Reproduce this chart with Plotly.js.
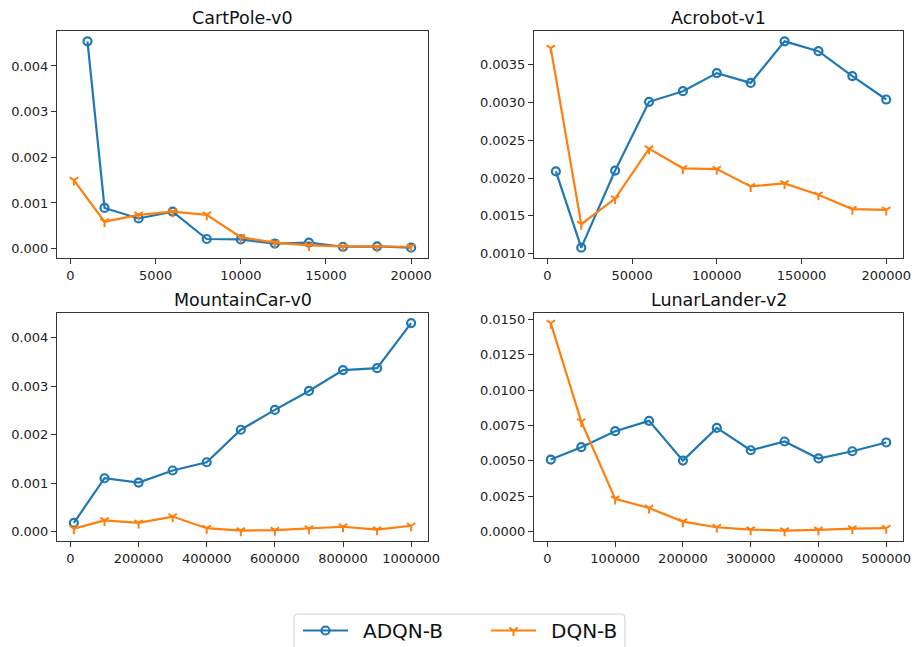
<!DOCTYPE html>
<html>
<head>
<meta charset="utf-8">
<script src="https://cdn.plot.ly/plotly-3.0.1.min.js"></script>
<style>html,body{margin:0;padding:0;background:#fff;}#chart{width:921px;height:647px;}</style>
</head>
<body>
<div id="chart"></div>
<script>
// ---- Data ----
const titles = ["CartPole-v0", "Acrobot-v1", "MountainCar-v0", "LunarLander-v2"];
const seriesNames = ["ADQN-B", "DQN-B"];

const cartX_adqn = [1000, 2000, 4000, 6000, 8000, 10000, 12000, 14000, 16000, 18000, 20000];
const cartY_adqn = [0.00454, 0.00089, 0.00066, 0.00081, 0.00021, 0.00020, 0.00011, 0.00013, 0.00004, 0.00005, 0.00002];
const cartX_dqn  = [200, 2000, 4000, 6000, 8000, 10000, 12000, 14000, 16000, 18000, 20000];
const cartY_dqn  = [0.00150, 0.00059, 0.00074, 0.00081, 0.00074, 0.00025, 0.00013, 0.00007, 0.00005, 0.00004, 0.00004];

const acroX_adqn = [5000, 20000, 40000, 60000, 80000, 100000, 120000, 140000, 160000, 180000, 200000];
const acroY_adqn = [0.00209, 0.00108, 0.00210, 0.00301, 0.00315, 0.00339, 0.00326, 0.00381, 0.00368, 0.00335, 0.00304];
const acroX_dqn  = [2000, 20000, 40000, 60000, 80000, 100000, 120000, 140000, 160000, 180000, 200000];
const acroY_dqn  = [0.00372, 0.00139, 0.00173, 0.00239, 0.00213, 0.00212, 0.00189, 0.00193, 0.00178, 0.00159, 0.00158];

const mcX_adqn = [10000, 100000, 200000, 300000, 400000, 500000, 600000, 700000, 800000, 900000, 1000000];
const mcY_adqn = [0.00018, 0.00110, 0.00101, 0.00126, 0.00143, 0.00210, 0.00251, 0.00290, 0.00333, 0.00337, 0.00430];
const mcX_dqn  = [10000, 100000, 200000, 300000, 400000, 500000, 600000, 700000, 800000, 900000, 1000000];
const mcY_dqn  = [0.00006, 0.00023, 0.00018, 0.00031, 0.00007, 0.00002, 0.00003, 0.00006, 0.00010, 0.00004, 0.00012];

const llX_adqn = [5000, 50000, 100000, 150000, 200000, 250000, 300000, 350000, 400000, 450000, 500000];
const llY_adqn = [0.00509, 0.00597, 0.00710, 0.00783, 0.00502, 0.00733, 0.00575, 0.00637, 0.00517, 0.00568, 0.00630];
const llX_dqn  = [5000, 50000, 100000, 150000, 200000, 250000, 300000, 350000, 400000, 450000, 500000];
const llY_dqn  = [0.01474, 0.00778, 0.00231, 0.00167, 0.00071, 0.00031, 0.00014, 0.00007, 0.00012, 0.00021, 0.00024];

const xTicks = [
  [0, 5000, 10000, 15000, 20000],
  [0, 50000, 100000, 150000, 200000],
  [0, 200000, 400000, 600000, 800000, 1000000],
  [0, 100000, 200000, 300000, 400000, 500000]
];
const yTicks = [
  [0, 0.001, 0.002, 0.003, 0.004],
  [0.0010, 0.0015, 0.0020, 0.0025, 0.0030, 0.0035],
  [0, 0.001, 0.002, 0.003, 0.004],
  [0, 0.0025, 0.0050, 0.0075, 0.0100, 0.0125, 0.0150]
];
const yDecimals = [3, 4, 3, 4];

// ---- Build ----
const blue = "#1f77b4", orange = "#ff7f0e";
const panels = [
  [cartX_adqn, cartY_adqn, cartX_dqn, cartY_dqn],
  [acroX_adqn, acroY_adqn, acroX_dqn, acroY_dqn],
  [mcX_adqn, mcY_adqn, mcX_dqn, mcY_dqn],
  [llX_adqn, llY_adqn, llX_dqn, llY_dqn]
];

const W = 921, H = 647;
const boxes = [ // [left, right, top, bottom] in px
  [57, 428, 31, 258],
  [534, 903, 31, 258],
  [57, 428, 312.7, 541],
  [534, 903, 312.7, 541]
];

function padRange(arrs) {
  const all = [].concat(...arrs);
  const mn = Math.min(...all), mx = Math.max(...all);
  const p = (mx - mn) * 0.05;
  return [mn - p, mx + p];
}

// legend frame (rounded rectangle) in pixels -> paper
function roundRectPath(x0, y0, x1, y1, r) {
  const px = v => (v / W).toFixed(5), py = v => (1 - v / H).toFixed(5);
  return "M" + px(x0 + r) + "," + py(y0) +
    " L" + px(x1 - r) + "," + py(y0) +
    " Q" + px(x1) + "," + py(y0) + " " + px(x1) + "," + py(y0 + r) +
    " L" + px(x1) + "," + py(y1 - r) +
    " Q" + px(x1) + "," + py(y1) + " " + px(x1 - r) + "," + py(y1) +
    " L" + px(x0 + r) + "," + py(y1) +
    " Q" + px(x0) + "," + py(y1) + " " + px(x0) + "," + py(y1 - r) +
    " L" + px(x0) + "," + py(y0 + r) +
    " Q" + px(x0) + "," + py(y0) + " " + px(x0 + r) + "," + py(y0) + " Z";
}

const traces = [];
const layout = {
  width: W, height: H,
  margin: {l: 0, r: 0, t: 0, b: 0, autoexpand: false},
  paper_bgcolor: "#fff", plot_bgcolor: "#fff",
  font: {family: "DejaVu Sans", size: 13, color: "#222"},
  showlegend: true,
  legend: {
    orientation: "h", x: 298 / W, xanchor: "left", y: 1 - 611 / H, yanchor: "top",
    font: {family: "DejaVu Sans", size: 20, color: "#111"},
    borderwidth: 0, bgcolor: "rgba(0,0,0,0)",
    entrywidth: 128, itemwidth: 45
  },
  shapes: [{
    type: "path", xref: "paper", yref: "paper", layer: "below",
    path: roundRectPath(294, 614, 625, 662, 4),
    line: {color: "#d0d0d0", width: 1}, fillcolor: "rgba(255,255,255,0.8)"
  }],
  annotations: []
};

panels.forEach((p, i) => {
  const k = i + 1;
  const xa = "x" + (k === 1 ? "" : k), ya = "y" + (k === 1 ? "" : k);
  traces.push({
    x: p[0], y: p[1], type: "scatter", mode: "lines+markers", name: "\u2002" + seriesNames[0],
    xaxis: xa, yaxis: ya, showlegend: i === 0, legendgroup: "a",
    line: {color: blue, width: 2.2},
    marker: {symbol: "circle-open", size: 8, color: blue, line: {color: blue, width: 2.2}}
  });
  traces.push({
    x: p[2], y: p[3], type: "scatter", mode: "lines+markers", name: "\u2002" + seriesNames[1],
    xaxis: xa, yaxis: ya, showlegend: i === 0, legendgroup: "b",
    line: {color: orange, width: 2.2},
    marker: {symbol: "y-down", size: 7, color: orange, line: {color: orange, width: 2}}
  });
  const b = boxes[i];
  const axBase = {
    showline: true, mirror: true, linecolor: "#333", linewidth: 1,
    ticks: "outside", ticklen: 5, tickwidth: 1, tickcolor: "#333",
    showgrid: false, zeroline: false, tickmode: "array",
    tickfont: {family: "DejaVu Sans", size: 13, color: "#222"}
  };
  layout["xaxis" + (k === 1 ? "" : k)] = Object.assign({}, axBase, {
    domain: [b[0] / W, b[1] / W], anchor: ya,
    range: padRange([p[0], p[2]]), tickvals: xTicks[i], ticktext: xTicks[i].map(v => String(v))
  });
  layout["yaxis" + (k === 1 ? "" : k)] = Object.assign({}, axBase, {
    domain: [1 - b[3] / H, 1 - b[2] / H], anchor: xa,
    range: padRange([p[1], p[3]]), tickvals: yTicks[i], ticktext: yTicks[i].map(v => v.toFixed(yDecimals[i]))
  });
  layout.annotations.push({
    text: titles[i], xref: "paper", yref: "paper",
    x: (b[0] + b[1]) / 2 / W, y: 1 - b[2] / H, xanchor: "center", yanchor: "bottom", yshift: 1,
    showarrow: false, font: {family: "DejaVu Sans", size: 17.5, color: "#111"}
  });
});

Plotly.newPlot("chart", traces, layout, {displayModeBar: false, staticPlot: true});
</script>
</body>
</html>
